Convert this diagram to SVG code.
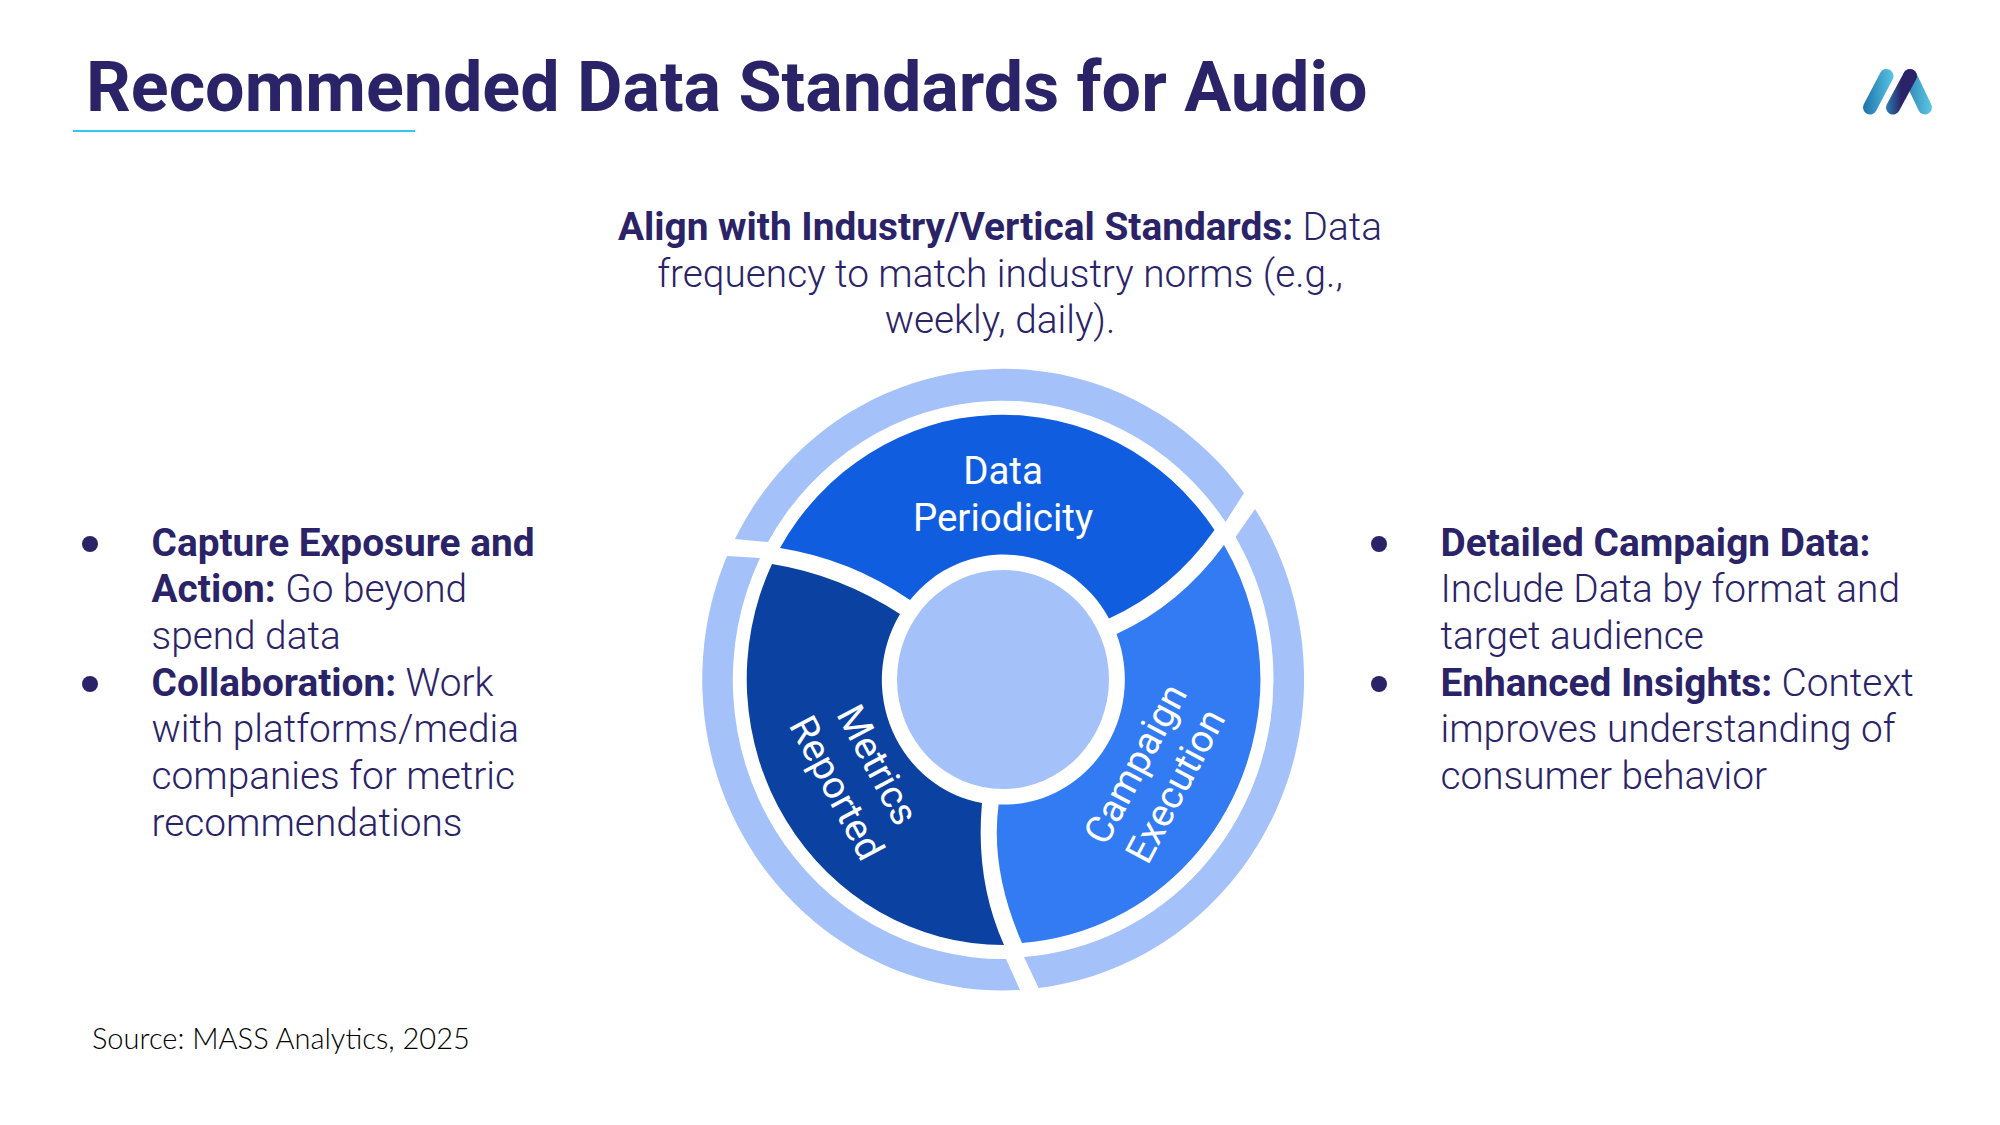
<svg xmlns="http://www.w3.org/2000/svg" width="2000" height="1125" viewBox="0 0 2000 1125">
<style>
text{font-family:Roboto,"Liberation Sans",sans-serif;fill:#2b2367}
.b{font-size:38.800px;font-weight:300}
.b .h,.h{font-weight:700}
.seg{font-size:38.500px;fill:#fff;text-anchor:middle;font-weight:400}
.ring{fill:#a4c2f9}
.dot{fill:#2b2367}
</style>
<defs>
<linearGradient id="g1" gradientUnits="userSpaceOnUse" x1="1864" y1="92" x2="1893" y2="92"><stop offset="0" stop-color="#1f74ad"/><stop offset="1" stop-color="#58c5e2"/></linearGradient>
<linearGradient id="g2" gradientUnits="userSpaceOnUse" x1="1886" y1="92" x2="1917" y2="92"><stop offset="0" stop-color="#2a7fb5"/><stop offset="0.5" stop-color="#2b2367"/><stop offset="1" stop-color="#2b2367"/></linearGradient>
<linearGradient id="g3" gradientUnits="userSpaceOnUse" x1="1904" y1="92" x2="1932" y2="92"><stop offset="0" stop-color="#2a7fb5"/><stop offset="1" stop-color="#5cc8e2"/></linearGradient>
</defs>
<g id="header">
<text x="86" y="111" font-size="70" font-weight="700">Recommended Data Standards for Audio</text>
<rect x="73" y="130" width="342" height="2" fill="#33c6f4"/>
</g>
<g id="logo" fill="none" stroke-width="14" stroke-linecap="round">
<path d="M1870 107.500L1886.500 76" stroke="url(#g1)"/>
<path d="M1910 76L1925 107.500" stroke="url(#g3)"/>
<path d="M1893 107.500L1910 76" stroke="url(#g2)"/>
</g>
<g id="top-text">
<text class="b" text-anchor="middle" x="1000" y="240"><tspan class="h">Align with Industry/Vertical Standards:</tspan> Data</text>
<text class="b" text-anchor="middle" x="1000" y="287">frequency to match industry norms (e.g.,</text>
<text class="b" text-anchor="middle" x="1000" y="333">weekly, daily).</text>
</g>
<g id="left-text">
<circle class="dot" cx="90" cy="544" r="8"/>
<text class="b" x="151.500" y="555.500"><tspan class="h">Capture Exposure and</tspan></text>
<text class="b" x="151.500" y="602"><tspan class="h">Action:</tspan> Go beyond</text>
<text class="b" x="151.500" y="649">spend data</text>
<circle class="dot" cx="90" cy="684" r="8"/>
<text class="b" x="151.500" y="695.500"><tspan class="h">Collaboration:</tspan> Work</text>
<text class="b" x="151.500" y="742">with platforms/media</text>
<text class="b" x="151.500" y="789">companies for metric</text>
<text class="b" x="151.500" y="835.500">recommendations</text>
</g>
<g id="right-text">
<circle class="dot" cx="1379" cy="544" r="8"/>
<text class="b" x="1440.500" y="555.500"><tspan class="h">Detailed Campaign Data:</tspan></text>
<text class="b" x="1440.500" y="602">Include Data by format and</text>
<text class="b" x="1440.500" y="649">target audience</text>
<circle class="dot" cx="1379" cy="684" r="8"/>
<text class="b" x="1440.500" y="695.500"><tspan class="h">Enhanced Insights:</tspan> Context</text>
<text class="b" x="1440.500" y="742">improves understanding of</text>
<text class="b" x="1440.500" y="789">consumer behavior</text>
</g>
<g id="outer-ring">
<path class="ring" d="M735 539A301 311 0 0 1 1244 493L1225.500 522A270 279 0 0 0 768 542Z"/>
<path class="ring" d="M1255 509A301 311 0 0 1 1038.600 988L1024 957A270 279 0 0 0 1273.500 680A270 279 0 0 0 1235.600 537Z"/>
<path class="ring" d="M1020 990A301 311 0 0 1 727 556L760 558A270 279 0 0 0 1006 959Z"/>
</g>
<g id="data-periodicity">
<path fill="#105de0" d="M780 548A257 266 0 0 1 1214.500 530Q1172 590 1109 618.500A121 125 0 0 0 910 600Q850 559 780 548Z"/>
<text class="seg" x="1003" y="484">Data</text>
<text class="seg" x="1003" y="530.500">Periodicity</text>
</g>
<g id="campaign-execution">
<path fill="#327bf2" d="M1224 545A257 266 0 0 1 1260.500 680A257 266 0 0 1 1022 943Q990 870 998.600 804.500A121 125 0 0 0 1116.500 634Q1180 605 1224 545Z"/>
<text class="seg" transform="translate(1147 770) rotate(-62)">Campaign</text>
<text class="seg" transform="translate(1187 792) rotate(-62)">Execution</text>
</g>
<g id="metrics-reported">
<path fill="#0b41a0" d="M772 564Q840 575 900 614A121 125 0 0 0 982 803Q975 880 1004 945A257 266 0 0 1 772 564Z"/>
<text class="seg" transform="translate(866 771) rotate(62)">Metrics</text>
<text class="seg" transform="translate(825 794) rotate(62)">Reported</text>
</g>
<ellipse id="hub" class="ring" cx="1003" cy="679.500" rx="106" ry="109.500"/>
<g id="connectors"/>
<text id="source" x="92" y="1049" font-size="29" font-weight="300" style="font-family:Lato,'Noto Sans',sans-serif;fill:#000">Source: MASS Analytics, 2025</text>
</svg>
